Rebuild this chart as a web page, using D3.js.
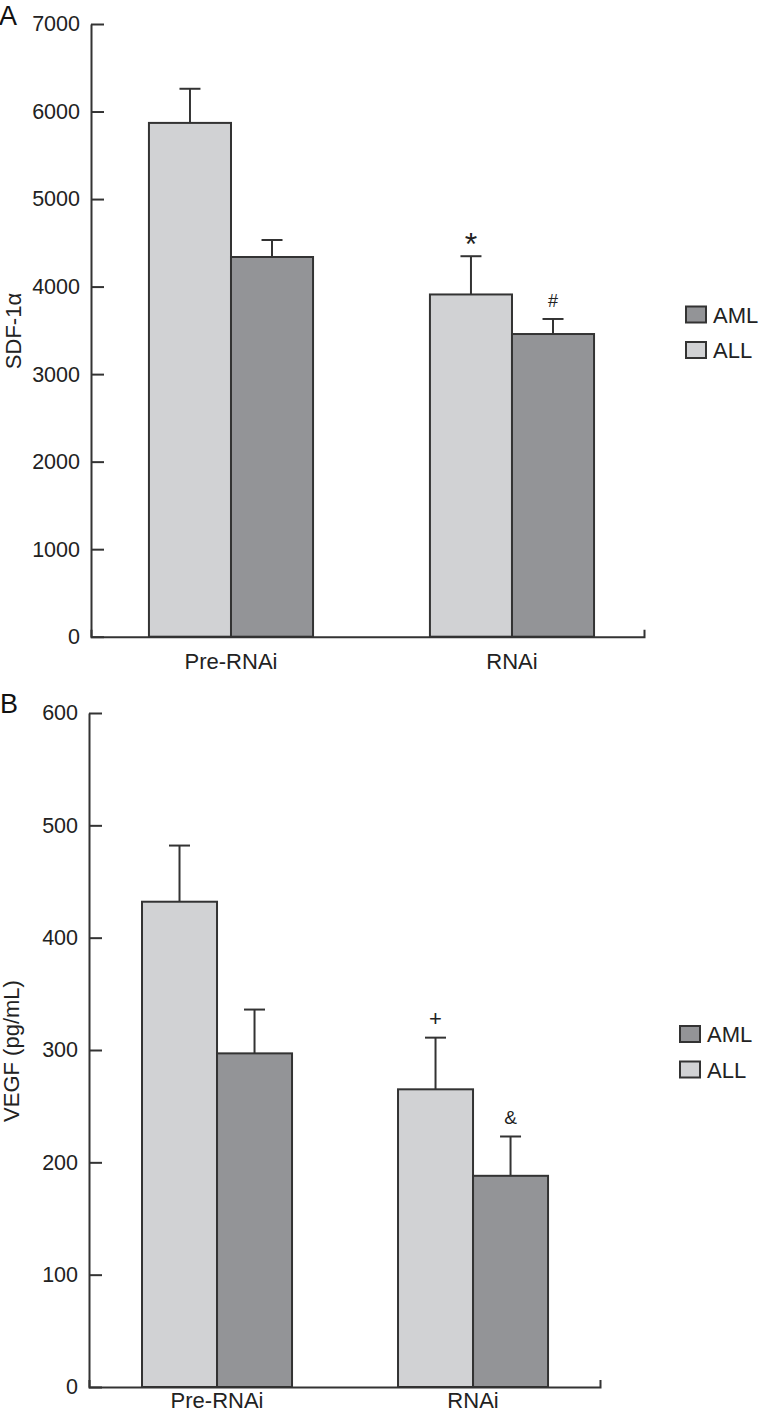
<!DOCTYPE html>
<html>
<head>
<meta charset="utf-8">
<script src="https://cdn.jsdelivr.net/npm/d3@7.9.0/dist/d3.min.js"></script>
<style>
  body { margin: 0; background: #fff; }
  svg { display: block; font-family: "Liberation Sans", Arial, sans-serif; }
</style>
</head>
<body>
<div id="chart"></div>
<script>
// ---- data ----
const groups = ["Pre-RNAi", "RNAi"];
const series = ["ALL", "AML"];
const legendOrder = ["AML", "ALL"];

// panel A: SDF-1a
const sdfTicks = [0, 1000, 2000, 3000, 4000, 5000, 6000, 7000];
const sdfAll = [5870, 3910];
const sdfAllErr = [390, 437];
const sdfAml = [4338, 3458];
const sdfAmlErr = [194, 172];
const sdfAllNote = ["", "*"];
const sdfAmlNote = ["", "#"];

// panel B: VEGF
const vegfTicks = [0, 100, 200, 300, 400, 500, 600];
const vegfAll = [432, 265];
const vegfAllErr = [50, 46];
const vegfAml = [297, 188];
const vegfAmlErr = [39, 35];
const vegfAllNote = ["", "+"];
const vegfAmlNote = ["", "&"];

const color = { ALL: "#d1d2d4", AML: "#939497" };
const ink = "#333";
const noteSize = { "*": 32, "#": 18, "+": 22, "&": 19 };

const svg = d3.select("#chart").append("svg")
  .attr("width", 760)
  .attr("height", 1413);

function rows(all, allErr, allNote, aml, amlErr, amlNote) {
  return groups.flatMap((g, i) => [
    { group: g, key: "ALL", value: all[i], err: allErr[i], note: allNote[i] },
    { group: g, key: "AML", value: aml[i], err: amlErr[i], note: amlNote[i] },
  ]);
}

function drawPanel(o) {
  const g = svg.append("g");

  const y = d3.scaleLinear()
    .domain([0, d3.max(o.ticks)])
    .range([o.bottom, o.top]);

  const x0 = d3.scaleBand()
    .domain(groups)
    .range([o.left, o.right])
    .paddingInner(o.padIn)
    .paddingOuter(o.padOut)
    .align(o.align);

  const x1 = d3.scaleBand()
    .domain(series)
    .range([0, x0.bandwidth()]);

  // bars
  const bars = g.append("g").selectAll("g")
    .data(o.data)
    .join("g")
    .attr("transform", d => `translate(${x0(d.group) + x1(d.key)},0)`);

  bars.append("line")
    .attr("x1", x1.bandwidth() / 2)
    .attr("x2", x1.bandwidth() / 2)
    .attr("y1", d => y(d.value))
    .attr("y2", d => y(d.value + d.err))
    .attr("stroke", ink)
    .attr("stroke-width", 2);

  bars.append("line")
    .attr("x1", x1.bandwidth() / 2 - 10.5)
    .attr("x2", x1.bandwidth() / 2 + 10.5)
    .attr("y1", d => y(d.value + d.err))
    .attr("y2", d => y(d.value + d.err))
    .attr("stroke", ink)
    .attr("stroke-width", 2);

  bars.append("rect")
    .attr("x", 0)
    .attr("width", x1.bandwidth())
    .attr("y", d => y(d.value))
    .attr("height", d => y(0) - y(d.value))
    .attr("fill", d => color[d.key])
    .attr("stroke", ink)
    .attr("stroke-width", 2);

  bars.filter(d => d.note).append("text")
    .attr("x", x1.bandwidth() / 2)
    .attr("y", d => y(d.value + d.err) - (d.note === "*" ? 1 : 12))
    .attr("text-anchor", "middle")
    .attr("font-size", d => noteSize[d.note])
    .attr("fill", "#222")
    .text(d => d.note);

  // y axis, ticks pointing inward
  const yAxis = g.append("g")
    .attr("transform", `translate(${o.left},0)`)
    .call(d3.axisLeft(y).tickValues(o.ticks).tickFormat(d3.format("d"))
      .tickSizeInner(-13).tickSizeOuter(0).tickPadding(11));
  yAxis.selectAll("line, path").attr("stroke", ink).attr("stroke-width", 2);
  yAxis.selectAll("text").attr("font-size", 21.5).attr("fill", "#222");

  // x axis with small upward end tick
  const xAxis = g.append("g")
    .attr("transform", `translate(0,${o.bottom})`)
    .call(d3.axisBottom(x0).tickSizeInner(0).tickSizeOuter(-7).tickPadding(o.xPad));
  xAxis.select("path").attr("stroke", ink).attr("stroke-width", 2).attr("fill", "none");
  xAxis.selectAll("text").attr("font-size", 22).attr("fill", "#222");

  // axis title
  g.append("text")
    .attr("transform", `translate(${o.titleX},${o.titleY}) rotate(-90)`)
    .attr("text-anchor", "middle")
    .attr("font-size", 22)
    .attr("fill", "#222")
    .text(o.title);

  // panel letter
  g.append("text")
    .attr("x", o.letterX)
    .attr("y", o.letterY)
    .attr("font-size", 27)
    .attr("fill", "#111")
    .text(o.letter);

  // legend
  const leg = g.append("g").selectAll("g")
    .data(legendOrder)
    .join("g")
    .attr("transform", (d, i) => `translate(${o.legX},${o.legY + i * 35.5})`);
  leg.append("rect")
    .attr("width", 20).attr("height", 16)
    .attr("fill", d => color[d])
    .attr("stroke", ink).attr("stroke-width", 2);
  leg.append("text")
    .attr("x", 27).attr("y", 16)
    .attr("font-size", 22)
    .attr("fill", "#222")
    .text(d => d);
}

drawPanel({
  data: rows(sdfAll, sdfAllErr, sdfAllNote, sdfAml, sdfAmlErr, sdfAmlNote),
  ticks: sdfTicks,
  top: 24, bottom: 636.7, left: 91, right: 644,
  padIn: 0.416, padOut: 0.192, align: 0.537, xPad: 17,
  title: "SDF-1\u03b1", titleX: 21, titleY: 331,
  letter: "A", letterX: -1, letterY: 25,
  legX: 686, legY: 306.5,
});

drawPanel({
  data: rows(vegfAll, vegfAllErr, vegfAllNote, vegfAml, vegfAmlErr, vegfAmlNote),
  ticks: vegfTicks,
  top: 713, bottom: 1387, left: 89, right: 600,
  padIn: 0.414, padOut: 0.205, align: 0.505, xPad: 5,
  title: "VEGF (pg/mL)", titleX: 19, titleY: 1051,
  letter: "B", letterX: 0, letterY: 713,
  legX: 680, legY: 1026,
});
</script>
</body>
</html>
